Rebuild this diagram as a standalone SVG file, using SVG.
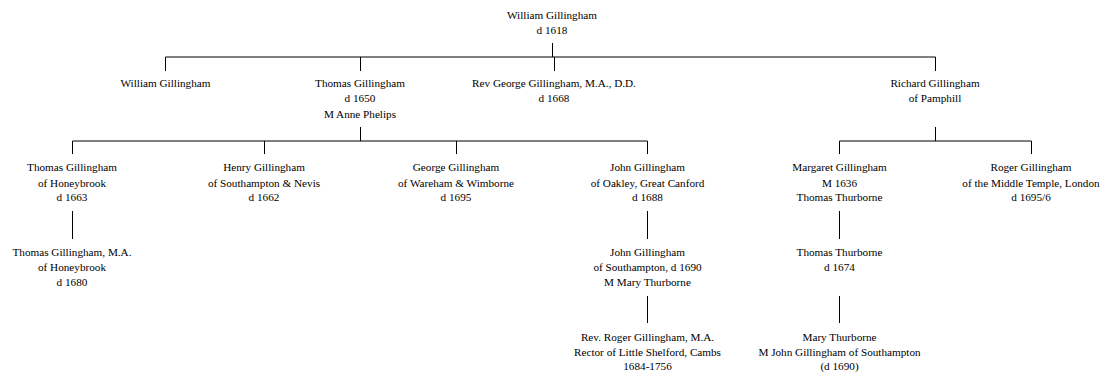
<svg xmlns="http://www.w3.org/2000/svg" width="1103" height="372" viewBox="0 0 1103 372">
<style>
text{font-family:"Liberation Serif","Times New Roman",serif;font-size:11.2px;fill:#000;text-anchor:middle}
.c line{stroke:#000;stroke-width:1;fill:none}
</style>
<rect width="1103" height="372" fill="#fff"/>
<g id="connectors" class="c">
<line x1="552.5" y1="43" x2="552.5" y2="57"/>
<line x1="165.5" y1="57" x2="935.5" y2="57"/>
<line x1="165.5" y1="57" x2="165.5" y2="71"/>
<line x1="360.5" y1="57" x2="360.5" y2="71"/>
<line x1="554.5" y1="57" x2="554.5" y2="71"/>
<line x1="935.5" y1="57" x2="935.5" y2="71"/>
<line x1="360.5" y1="127" x2="360.5" y2="141"/>
<line x1="72.5" y1="141" x2="647.5" y2="141"/>
<line x1="72.5" y1="141" x2="72.5" y2="154"/>
<line x1="264.5" y1="141" x2="264.5" y2="154"/>
<line x1="456.5" y1="141" x2="456.5" y2="154"/>
<line x1="647.5" y1="141" x2="647.5" y2="154"/>
<line x1="935.5" y1="127" x2="935.5" y2="141"/>
<line x1="839.5" y1="141" x2="1031.5" y2="141"/>
<line x1="839.5" y1="141" x2="839.5" y2="154"/>
<line x1="1031.5" y1="141" x2="1031.5" y2="154"/>
<line x1="72.5" y1="211" x2="72.5" y2="239"/>
<line x1="647.5" y1="211" x2="647.5" y2="239"/>
<line x1="839.5" y1="211" x2="839.5" y2="239"/>
<line x1="647.5" y1="296" x2="647.5" y2="323"/>
<line x1="839.5" y1="296" x2="839.5" y2="323"/>
</g>
<g id="n-william-1618"><text x="552" y="19">William Gillingham</text><text x="552" y="34">d 1618</text></g>
<g id="n-william"><text x="165.5" y="87">William Gillingham</text></g>
<g id="n-thomas-1650"><text x="360" y="87">Thomas Gillingham</text><text x="360" y="102.3">d 1650</text><text x="360" y="117.6">M Anne Phelips</text></g>
<g id="n-rev-george"><text x="554" y="87">Rev George Gillingham, M.A., D.D.</text><text x="554" y="102.3">d 1668</text></g>
<g id="n-richard"><text x="935" y="87">Richard Gillingham</text><text x="935" y="102.3">of Pamphill</text></g>
<g id="n-thomas-1663"><text x="72" y="171.4">Thomas Gillingham</text><text x="72" y="186.7">of Honeybrook</text><text x="72" y="201.2">d 1663</text></g>
<g id="n-henry"><text x="264" y="171.4">Henry Gillingham</text><text x="264" y="186.7">of Southampton &amp; Nevis</text><text x="264" y="201.2">d 1662</text></g>
<g id="n-george"><text x="456" y="171.4">George Gillingham</text><text x="456" y="186.7">of Wareham &amp; Wimborne</text><text x="456" y="201.2">d 1695</text></g>
<g id="n-john-1688"><text x="647.5" y="171.4">John Gillingham</text><text x="647.5" y="186.7">of Oakley, Great Canford</text><text x="647.5" y="201.2">d 1688</text></g>
<g id="n-margaret"><text x="839.5" y="171.4">Margaret Gillingham</text><text x="839.5" y="186.7">M 1636</text><text x="839.5" y="201.2">Thomas Thurborne</text></g>
<g id="n-roger-1695"><text x="1031" y="171.4">Roger Gillingham</text><text x="1031" y="186.7">of the Middle Temple, London</text><text x="1031" y="201.2">d 1695/6</text></g>
<g id="n-thomas-1680"><text x="72" y="256">Thomas Gillingham, M.A.</text><text x="72" y="271.4">of Honeybrook</text><text x="72" y="286">d 1680</text></g>
<g id="n-john-1690"><text x="647.5" y="256">John Gillingham</text><text x="647.5" y="271.4">of Southampton, d 1690</text><text x="647.5" y="286">M Mary Thurborne</text></g>
<g id="n-thomas-thurborne"><text x="839.5" y="256">Thomas Thurborne</text><text x="839.5" y="271.4">d 1674</text></g>
<g id="n-rev-roger"><text x="647.5" y="341">Rev. Roger Gillingham, M.A.</text><text x="647.5" y="356.4">Rector of Little Shelford, Cambs</text><text x="647.5" y="370.4">1684-1756</text></g>
<g id="n-mary-thurborne"><text x="839.5" y="341">Mary Thurborne</text><text x="839.5" y="356.4">M John Gillingham of Southampton</text><text x="839.5" y="370.4">(d 1690)</text></g>
</svg>
